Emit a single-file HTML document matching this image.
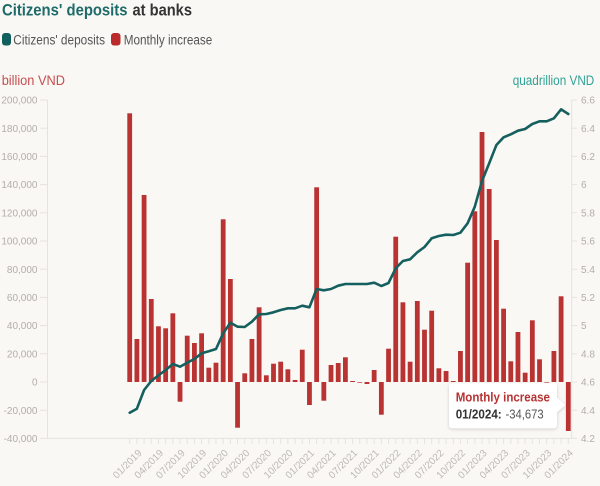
<!DOCTYPE html>
<html><head><meta charset="utf-8"><style>
html,body{margin:0;padding:0;background:#faf8f5;}
svg{display:block;font-family:"Liberation Sans",sans-serif;}
</style></head><body>
<svg id="c" width="600" height="486" viewBox="0 0 600 486" xmlns="http://www.w3.org/2000/svg">
<defs>
<filter id="sh" x="-20%" y="-30%" width="140%" height="160%"><feDropShadow dx="0" dy="1" stdDeviation="1.5" flood-color="#000" flood-opacity="0.18"/></filter>
</defs>
<rect width="600" height="486" fill="#faf8f5"/>
<text x="2" y="15.5" font-size="17" font-weight="bold" fill="#1e6b6a" textLength="125.5" lengthAdjust="spacingAndGlyphs">Citizens' deposits</text>
<text x="132.5" y="15.5" font-size="17" font-weight="bold" fill="#333333" textLength="59.5" lengthAdjust="spacingAndGlyphs">at banks</text>
<rect x="2" y="33" width="9" height="12.5" rx="3" fill="#12605e"/>
<text x="13.3" y="44.3" font-size="13.5" fill="#555" textLength="91.7" lengthAdjust="spacingAndGlyphs">Citizens' deposits</text>
<rect x="111" y="33" width="9.5" height="12.5" rx="3" fill="#bb2b2b"/>
<text x="123.7" y="44.3" font-size="13.5" fill="#555" textLength="88.6" lengthAdjust="spacingAndGlyphs">Monthly increase</text>
<text x="1.7" y="85" font-size="13.5" fill="#c44e4e" textLength="63.3" lengthAdjust="spacingAndGlyphs">billion VND</text>
<text x="512.7" y="85" font-size="13.5" fill="#2fa295" textLength="81.6" lengthAdjust="spacingAndGlyphs">quadrillion VND</text>
<g id="axes" stroke="#e6e3de" stroke-width="1" fill="none"></g>
<g id="lbl" font-size="10" fill="#b2aea8"></g>
<g id="bars" fill="#b93333"></g>
<polyline id="ln" fill="none" stroke="#15605e" stroke-width="2.6" stroke-linejoin="round" stroke-linecap="round"/>
<g filter="url(#sh)">
<rect x="449" y="383.3" width="108" height="45" rx="3" fill="#ffffff"/>
<polygon points="556,397 565.5,405 556,413" fill="#ffffff"/>
</g>
<text x="455.7" y="401.7" font-size="12.5" font-weight="bold" fill="#b83232" textLength="94.3" lengthAdjust="spacingAndGlyphs">Monthly increase</text>
<text x="455.7" y="418.5" font-size="12.5" font-weight="bold" fill="#333" textLength="46" lengthAdjust="spacingAndGlyphs">01/2024:</text>
<text x="505.5" y="418.5" font-size="12.5" fill="#555" textLength="38.2" lengthAdjust="spacingAndGlyphs">-34,673</text>
</svg>
<script>
(function(){
var NS="http://www.w3.org/2000/svg";
function el(t,a,p,txt){var e=document.createElementNS(NS,t);for(var k in a)e.setAttribute(k,a[k]);if(txt!==undefined)e.textContent=txt;p.appendChild(e);return e;}
var axes=document.getElementById('axes'),lbl=document.getElementById('lbl'),bars=document.getElementById('bars');
var zero=382, top=100, bot=438.4, step=28.24;
// axis lines
el('line',{x1:47.5,y1:top,x2:47.5,y2:bot},axes);
el('line',{x1:571.7,y1:top,x2:571.7,y2:bot},axes);
el('line',{x1:47.5,y1:bot,x2:571.7,y2:bot},axes);
var leftL=["200,000","180,000","160,000","140,000","120,000","100,000","80,000","60,000","40,000","20,000","0","-20,000","-40,000"];
var rightL=["6.6","6.4","6.2","6","5.8","5.6","5.4","5.2","5","4.8","4.6","4.4","4.2"];
for(var i=0;i<13;i++){
  var y=top+i*(bot-top)/12;
  el('line',{x1:40,y1:y,x2:47.5,y2:y},axes);
  el('line',{x1:571.7,y1:y,x2:577,y2:y},axes);
  el('text',{x:37.5,y:y+3.6,'text-anchor':'end'},lbl,leftL[i]);
  el('text',{x:581,y:y+3.6},lbl,rightL[i]);
}
var tops=[113.3,339,195,299,326.3,328.3,313.3,-401.7,335.7,343,333.3,367.7,362.7,219.3,279,-427.7,373.3,339,307.3,375.3,363.7,361.7,369.3,380,349.7,-405,187.3,-400.7,365,363,357.3,381,-382.7,-384,370,-414.7,348.7,236.7,302.3,361.7,301,329.7,310.7,368.3,371,381,351,262.7,211.3,132,189,240,308.7,361.3,332,372.7,320.3,359.3,-382.6,351,296.3,-431];
var ly=[412.7,408.7,390,381,375.3,370,364,366.7,362.7,359,353.3,351.3,349,333.3,322.7,326.7,327,321.7,314.3,314,312.3,310,308.3,308.3,305.7,307.3,289,290.3,289,285.7,284,284,284,284,282.7,286,283,268.3,261,259.3,252.3,247,238.3,236,234.7,235,232.7,223.3,206.7,181,163.3,145,137.3,134.3,130.7,129,124,121.3,121.3,118.3,109.3,114];
var sp=7.19, x0=127.3, bw=4.8;
var pts=[];
for(var i=0;i<62;i++){
  var x=x0+i*sp, c=x+bw/2, t=tops[i];
  if(t>0) el('rect',{x:x,y:t,width:bw,height:Math.max(zero-t,0.6)},bars);
  else el('rect',{x:x,y:zero,width:bw,height:Math.max(-t-zero,0.6)},bars);
  el('line',{x1:c,y1:bot,x2:c,y2:bot+5.5},axes);
  pts.push(c.toFixed(1)+','+ly[i]);
}
document.getElementById('ln').setAttribute('points',pts.join(' '));
var mon=["01","04","07","10"];
for(var k=0;k<21;k++){
  var idx=1+k*3, c=x0+idx*sp+bw/2;
  var yr=2019+Math.floor(k/4), m=mon[k%4];
  var ex=c+5.5, ey=453.5;
  el('text',{x:ex,y:ey,'text-anchor':'end',transform:'rotate(-45 '+ex+' '+ey+')',fill:'#bdb9b3'},lbl,m+'/'+yr);
}
})();
</script>
</body></html>
